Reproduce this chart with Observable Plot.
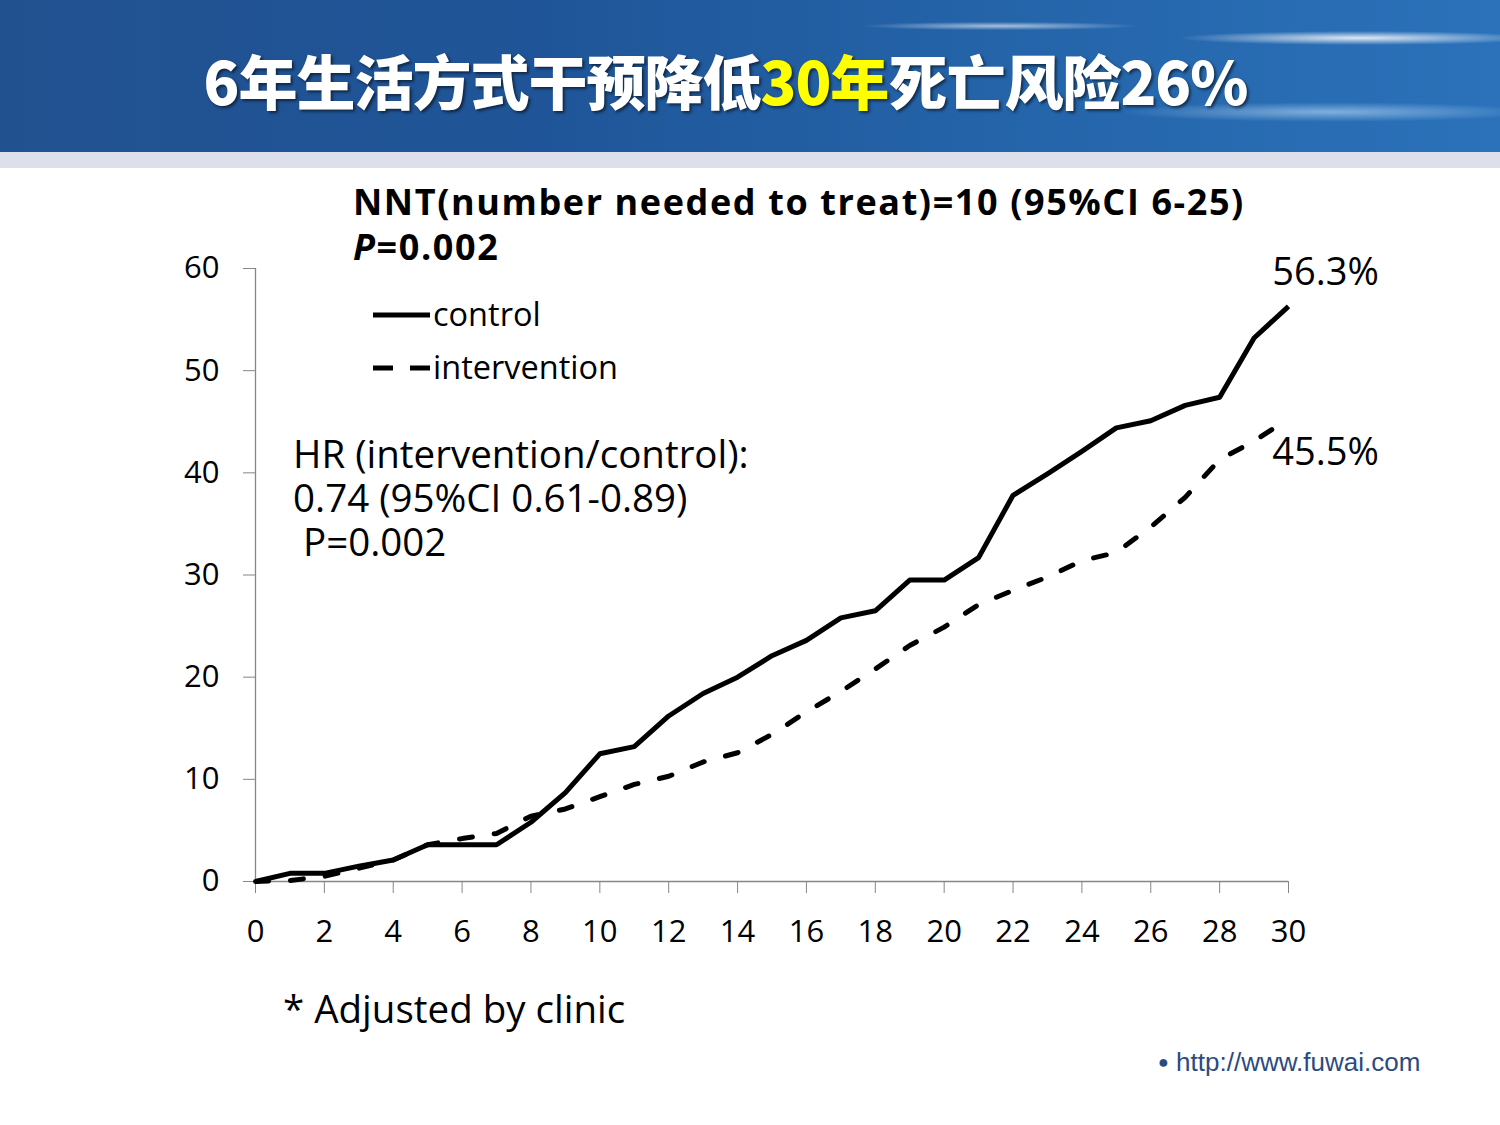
<!DOCTYPE html>
<html>
<head>
<meta charset="utf-8">
<script src="https://cdn.jsdelivr.net/npm/d3@7"></script>
<script src="https://cdn.jsdelivr.net/npm/@observablehq/plot@0.6"></script>
<style>
  html, body { margin: 0; padding: 0; background: #fff; }
  #page { position: relative; width: 1500px; height: 1125px; overflow: hidden; background: #fff; font-family: "Open Sans", "Noto Sans", sans-serif; }
  #banner { position: absolute; left: 0; top: 0; width: 1500px; height: 152px;
    background:
      radial-gradient(ellipse 260px 10px at 1360px 38px, rgba(255,255,255,0.85), rgba(255,255,255,0) 70%),
      radial-gradient(ellipse 200px 6px at 1000px 26px, rgba(255,255,255,0.6), rgba(255,255,255,0) 70%),
      radial-gradient(ellipse 300px 14px at 1330px 112px, rgba(200,230,255,0.55), rgba(255,255,255,0) 70%),
      linear-gradient(90deg, #22518f 0%, #1f5598 35%, #2463a8 65%, #2b72ba 100%);
  }
  #stripe { position: absolute; left: 0; top: 152px; width: 1500px; height: 16px; background: #dde0ea; }
  #title { position: absolute; left: 0; width: 1451px; top: 42px; text-align: center; color: #fff;
    font-family: "Noto Sans CJK SC", sans-serif; font-weight: 900; font-size: 59px; line-height: 76px;
    text-shadow: 2px 2px 3px rgba(0,0,0,0.55); letter-spacing: -1px; }
  #title .hl { color: #ffff00; }
  .note { position: absolute; color: #000; white-space: pre; }
  #nnt { left: 353px; top: 179px; font-weight: bold; font-size: 36px; line-height: 45px; letter-spacing: 1.6px; }
  #hr { left: 293px; top: 431px; font-size: 38.5px; line-height: 44px; }
  #cap { left: 283px; top: 984px; font-size: 38.5px; line-height: 48px; }
  #url { left: 1158px; top: 1047px; font-family: "Liberation Sans", Arial, sans-serif; font-size: 26px; color: #2b4b80; }
  #url .dot { font-size: 18px; vertical-align: 3px; }
  #legend { position: absolute; left: 370px; top: 292px; }
  #chart { position: absolute; left: 0; top: 170px; }
</style>
</head>
<body>
<div id="page">
  <div id="banner"></div>
  <div id="stripe"></div>
  <div id="title">6年生活方式干预降低<span class="hl">30年</span>死亡风险26%</div>
  <div id="chart"></div>
  <div id="nnt" class="note">NNT(number needed to treat)=10 (95%CI 6-25)
<i>P</i>=0.002</div>
  <div id="legend"></div>
  <div id="hr" class="note">HR (intervention/control):
0.74 (95%CI 0.61-0.89)
 P=0.002</div>
  <div id="cap" class="note">* Adjusted by clinic</div>
  <div id="url" class="note"><span class="dot">●</span> http://www.fuwai.com</div>
</div>
<script>
// ---- data ----
const years = [0,1,2,3,4,5,6,7,8,9,10,11,12,13,14,15,16,17,18,19,20,21,22,23,24,25,26,27,28,29,30];
const control = [0,0.8,0.8,1.5,2.1,3.6,3.6,3.6,5.8,8.7,12.5,13.2,16.2,18.4,20.0,22.1,23.6,25.8,26.5,29.5,29.5,31.7,37.8,39.9,42.1,44.4,45.1,46.6,47.4,53.2,56.3];
const intervention = [0,0.1,0.5,1.3,2.1,3.6,4.2,4.7,6.4,7.1,8.3,9.5,10.3,11.7,12.6,14.4,16.6,18.6,20.8,23.1,24.9,27.1,28.5,29.8,31.4,32.2,34.7,37.6,41.3,43.1,45.3];
const seriesNames = ["control", "intervention"];
const endLabels = ["56.3%", "45.5%"];
const xTicks = [0,2,4,6,8,10,12,14,16,18,20,22,24,26,28,30];
const yTicks = [0,10,20,30,40,50,60];

const rows = [];
years.forEach((t, i) => {
  rows.push({year: t, value: control[i], group: seriesNames[0]});
  rows.push({year: t, value: intervention[i], group: seriesNames[1]});
});
const ends = [
  {year: years[years.length-1], value: control[control.length-1], label: endLabels[0]},
  {year: years[years.length-1], value: intervention[intervention.length-1], label: endLabels[1]}
];

const axisColor = "#868686";
const chart = Plot.plot({
  width: 1500,
  height: 880,
  marginLeft: 255,
  marginRight: 212,
  marginTop: 98,
  marginBottom: 169,
  style: { fontFamily: "'Open Sans', 'Noto Sans', sans-serif", fontSize: "31px", color: "#000", background: "transparent", overflow: "visible" },
  x: { domain: [0, 30] },
  y: { domain: [0, 60] },
  marks: [
    Plot.axisX({ ticks: xTicks, tickSize: 12, tickPadding: 26, stroke: axisColor, label: null, fontSize: 31 }),
    Plot.axisY({ ticks: yTicks, tickSize: 12, tickPadding: 24, stroke: axisColor, label: null, fontSize: 31 }),
    Plot.ruleY([0], { stroke: axisColor, strokeWidth: 1.3 }),
    Plot.ruleX([0], { stroke: axisColor, strokeWidth: 1.3 }),
    Plot.line(rows.filter(d => d.group === seriesNames[0]), {
      x: "year", y: "value", stroke: "#000", strokeWidth: 5, strokeLinejoin: "round", strokeLinecap: "butt"
    }),
    Plot.line(rows.filter(d => d.group === seriesNames[1]), {
      x: "year", y: "value", stroke: "#000", strokeWidth: 5, strokeLinejoin: "round", strokeLinecap: "round",
      strokeDasharray: "13,22"
    }),
    Plot.text(ends.slice(0, 1), { x: "year", y: "value", text: "label", dx: 37, dy: -33, fontSize: 38, fill: "#000" }),
    Plot.text(ends.slice(1), { x: "year", y: "value", text: "label", dx: 37, dy: 34, fontSize: 38, fill: "#000" })
  ]
});
document.getElementById("chart").appendChild(chart);

// legend (inside plot area, as in the reference)
const legend = d3.select("#legend").append("svg").attr("width", 320).attr("height", 110).style("overflow", "visible");
const items = [
  {name: seriesNames[0], dash: null, y: 23},
  {name: seriesNames[1], dash: "20,17", y: 76}
];
items.forEach(it => {
  const ln = legend.append("line").attr("x1", 3).attr("x2", 60).attr("y1", it.y).attr("y2", it.y)
    .attr("stroke", "#000").attr("stroke-width", 5);
  if (it.dash) ln.attr("stroke-dasharray", it.dash);
  legend.append("text").attr("x", 63).attr("y", it.y).attr("dy", "0.35em")
    .attr("font-family", "'Open Sans', 'Noto Sans', sans-serif").attr("font-size", 32.5).attr("fill", "#000")
    .text(it.name);
});
</script>
</body>
</html>
